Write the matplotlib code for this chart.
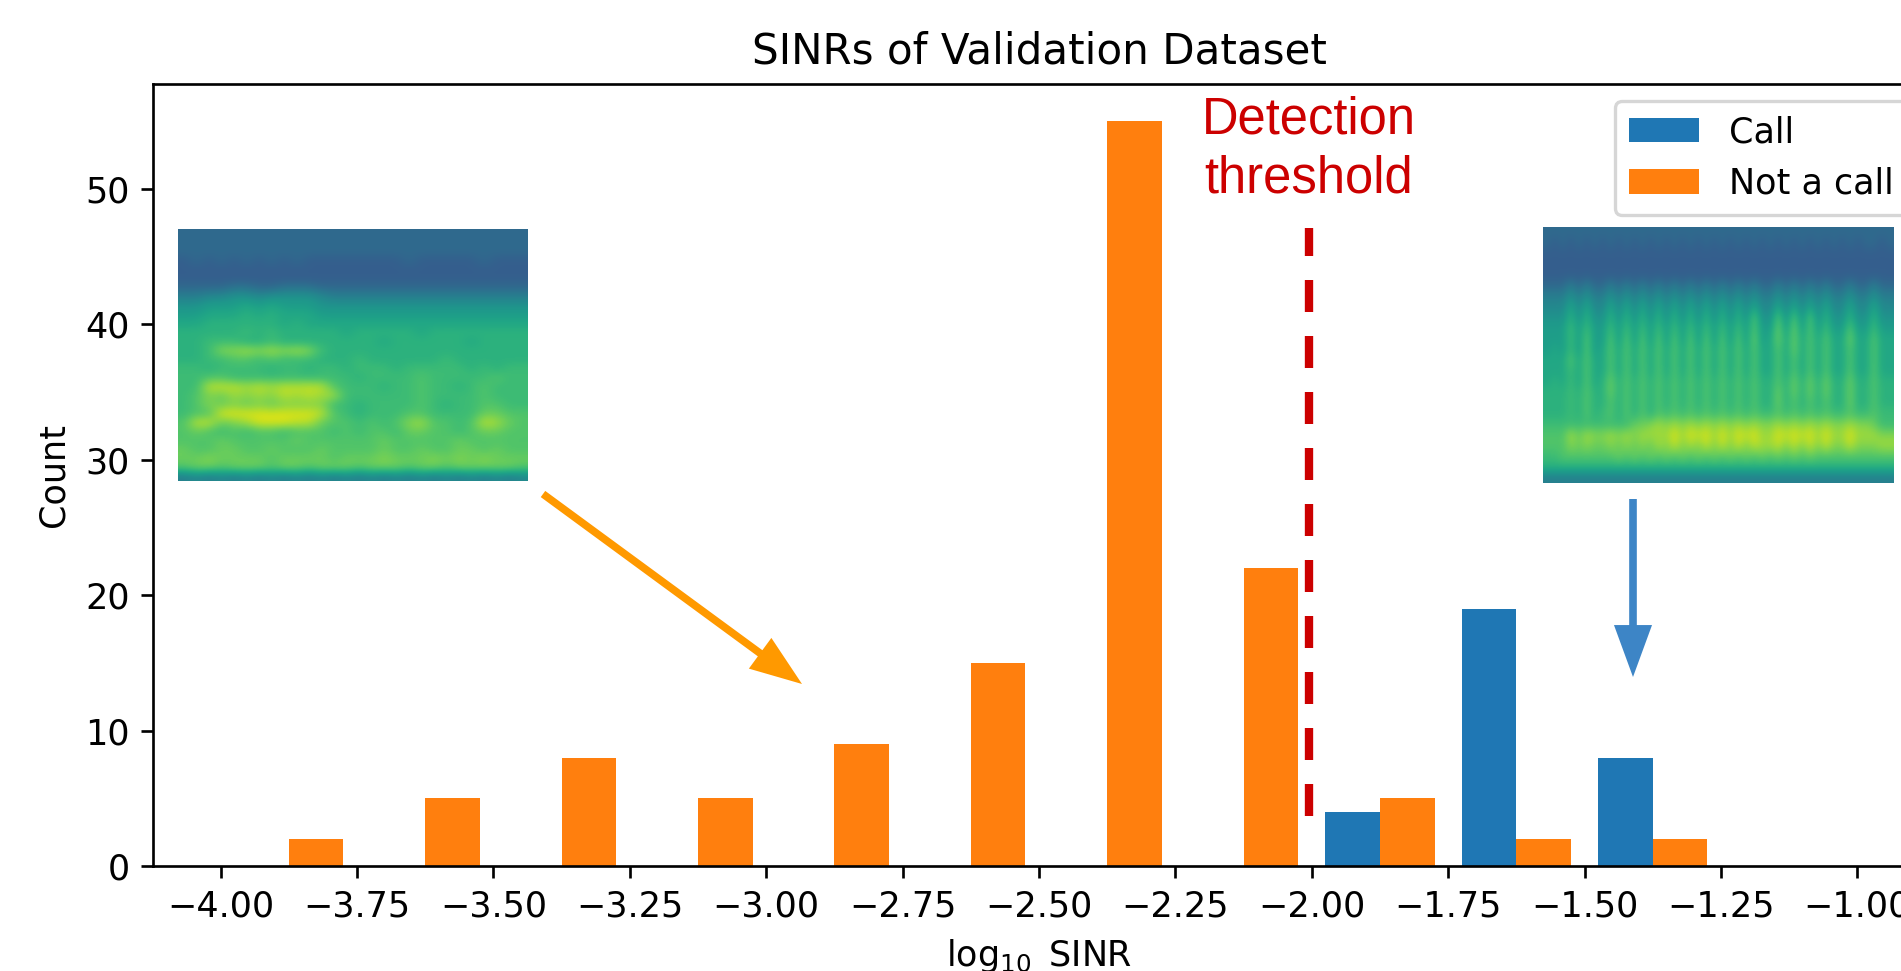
"""
SINRs of Validation Dataset: histogram with two spectrogram insets
"""

import numpy as np
import matplotlib
matplotlib.use("Agg")
import matplotlib.pyplot as plt

# bin edges are -4.00, -3.75, ... -1.00
bin_starts = [-4.00, -3.75, -3.50, -3.25, -3.00, -2.75, -2.50, -2.25, -2.00, -1.75, -1.50, -1.25]
call_counts = [0, 0, 0, 0, 0, 0, 0, 0, 4, 19, 8, 0]
not_call_counts = [2, 5, 8, 5, 9, 15, 55, 22, 5, 2, 2, 0]
x_ticks = [-4.00, -3.75, -3.50, -3.25, -3.00, -2.75, -2.50, -2.25, -2.00, -1.75, -1.50, -1.25, -1.00]
y_ticks = [0, 10, 20, 30, 40, 50]
threshold = -2.0

spec_not_call = [
    "1111111111111111111111111111",
    "1111111111111111111111111111",
    "1111111111111111111111111111",
    "0101010101000000001000001000",
    "0000000000000000000000000000",
    "0000000000000000000000000000",
    "1111221122211111111111111111",
    "3344554555543333333333333333",
    "5566676766655555555555555555",
    "6677787877766666666666666666",
    "7788888878777777777777777777",
    "8888898988888788888788888888",
    "8899988988888888788888878888",
    "889ccdcdcdc98888888888888888",
    "8899aa9a99988898888889888888",
    "9989999899899899989999989899",
    "99aa999999999989999a99999a99",
    "99eeededeeeea999899a9989a999",
    "9acbdcdcededd999999a9999a999",
    "9acbcbcbcccc9989999a9899aa99",
    "9aaffffffffea98999aa9999bbaa",
    "aeebcdfffeebaa9a9acdaa9aedba",
    "aba9a9aa9aaa9a9aa9bbaa9abbaa",
    "aaabaaaaabaaaaaabaaaaabaaaaa",
    "baabbaabaaabaaaabaabaabbabaa",
    "bbcbbbbabbbbabbbcbbbcbcbcbbb",
    "abbabbbabbabbbabbbabbabbbbba",
    "3434343434343434343434343434",
]
spec_call = [
    "11111111 11111111 11111111 11111 111111111 111 111",
    "10101010 10101010 10101010 10101 010101010 101 101",
    "00000000 00000000 00000000 00000 000000000 000 000",
    "00000000 00000000 00000000 00000 000000000 000 000",
    "00000000 00000000 00000000 00000 000000000 000 000",
    "11131311 31313131 31313131 31311 313131311 311 311",
    "33353533 53535353 53535353 53533 535353533 533 533",
    "44474744 74747474 74747474 74744 747474744 744 744",
    "55585855 85858585 85858585 85a55 a5a5a5855 855 855",
    "66696966 96969696 96969696 96a66 b6b6a6966 a66 966",
    "66696a66 a6a6a6a6 a6a6a6a6 a6b67 b7b7a7a77 b77 a77",
    "67696a67 a7a7a7a7 a7a7a7a7 a7a77 a7b7a7a77 a77 a77",
    "777a7a77 a7a7a7a7 a7a7a7a7 a7a77 a7a7a7a77 a77 a77",
    "77797a77 a7a7a7a7 a7a7a7a7 a7a77 a7a7a7a77 a77 a77",
    "78797a78 b8a8a8a8 a8a8a8a8 a8a88 a8b8b8b88 b88 a88",
    "88898a88 b8a8a8a8 a8a8a8a8 a8a88 b8b8b8b88 b88 a88",
    "88898a88 a8a8a8a8 a8a8a8a8 a8a88 b8a8a8a88 b88 a88",
    "88898a89 a8a8a8a9 a9a9a9a9 a9a99 a9a9a9a99 a99 a99",
    "99999999 999bbcdc dcdcdcdc dcdcc dcdcdcdcc dcc b99",
    "aaadbdcc dcdcdddd fdfefdfd fefdd fefefdfdd fdd dcc",
    "aaacbcbb cbcbcbdc ecdcecec ecedd ececececc ecc cdd",
    "99aaaaaa abababab abababab ababa bababaaaa aaa aaa",
    "88888888 88888888 88888888 88888 888888888 888 888",
    "33333333 33333333 33333333 33333 333333333 333 333",
]

BLUE = "#1f77b4"
ORANGE = "#ff7f0e"
RED = "#cc0000"
ARROW_ORANGE = "#ff9900"
ARROW_BLUE = "#3d85c6"
W, H = 1901, 971
SCALE = 2.4  # the picture is a matplotlib figure blown up, so everything grows with it
FONT_SCALE = 2.52


def px_rect(x0, y0, x1, y1):
    # pixel box (top-left origin) -> figure fractions
    return [x0 / W, (H - y1) / H, (x1 - x0) / W, (y1 - y0) / H]


def add_spec(fig, rows, box):
    grid = np.array([[int(c, 16) for c in r.replace(" ", "")] for r in rows], dtype=float)
    iax = fig.add_axes(px_rect(*box), zorder=5)
    iax.imshow(grid, cmap="viridis", vmin=-7.03, vmax=16.41, aspect="auto", interpolation="bicubic")
    iax.axis("off")


def add_arrow(ax, start, tip, color):
    # sizes in px converted to points at dpi 100, mutation_scale 10
    style = "simple,head_length=3.74,head_width=2.74,tail_width=0.55"
    ax.annotate("", xy=(tip[0] / W, 1 - tip[1] / H), xytext=(start[0] / W, 1 - start[1] / H),
                xycoords="figure fraction", textcoords="figure fraction",
                arrowprops=dict(arrowstyle=style, color=color, lw=0, mutation_scale=10,
                                shrinkA=0, shrinkB=0))


def main():
    plt.rcParams["font.family"] = "DejaVu Sans"
    plt.rcParams["font.size"] = 10 * FONT_SCALE

    fig = plt.figure(figsize=(W / 100, H / 100), dpi=100)
    ax = fig.add_axes(px_rect(153, 84, 1925, 866))

    starts = np.array(bin_starts)
    ax.bar(starts + 0.025, call_counts, width=0.1, align="edge", color=BLUE, label="Call")
    ax.bar(starts + 0.125, not_call_counts, width=0.1, align="edge", color=ORANGE, label="Not a call")

    ax.set_xlim(-4.124, -0.876)
    ax.set_ylim(0, 57.75)
    ax.set_xticks(x_ticks)
    ax.set_xticklabels([f"\u2212{abs(t):.2f}" for t in x_ticks])
    ax.set_yticks(y_ticks)
    ax.tick_params(width=0.8 * SCALE, length=3.5 * SCALE, pad=3.5 * SCALE)
    for s in ax.spines.values():
        s.set_linewidth(0.8 * SCALE)

    ax.set_title("SINRs of Validation Dataset", fontsize=12 * FONT_SCALE, pad=6 * SCALE)
    ax.set_xlabel(r"$\log_{10}$ SINR", labelpad=4 * SCALE)
    ax.set_ylabel("Count", labelpad=4.5 * SCALE)

    leg = ax.legend(loc="upper right", fancybox=True, framealpha=0.8, edgecolor="0.8",
                    handletextpad=0.85)
    leg.get_frame().set_linewidth(1.0 * SCALE)

    # threshold line stops short of the axis in the original slide
    ymin, ymax = (866 - 816) / 782, (866 - 228) / 782
    ax.axvline(threshold - 0.0055, ymin=ymin, ymax=ymax, color=RED, lw=6,
               ls=(0, (3.84, 2.88)), zorder=4)
    ax.text(threshold - 0.0055, 52.9, "Detection\nthreshold", color=RED, ha="center", va="center",
            family="Liberation Sans", fontsize=36.5, linespacing=1.27, zorder=6)

    add_spec(fig, spec_not_call, (178, 229, 528, 481))
    add_spec(fig, spec_call, (1543, 227, 1894, 483))

    add_arrow(ax, (543, 494), (802, 684), ARROW_ORANGE)
    add_arrow(ax, (1633, 499), (1633, 677), ARROW_BLUE)

    fig.savefig("out.png", dpi=100)


if __name__ == "__main__":
    main()
